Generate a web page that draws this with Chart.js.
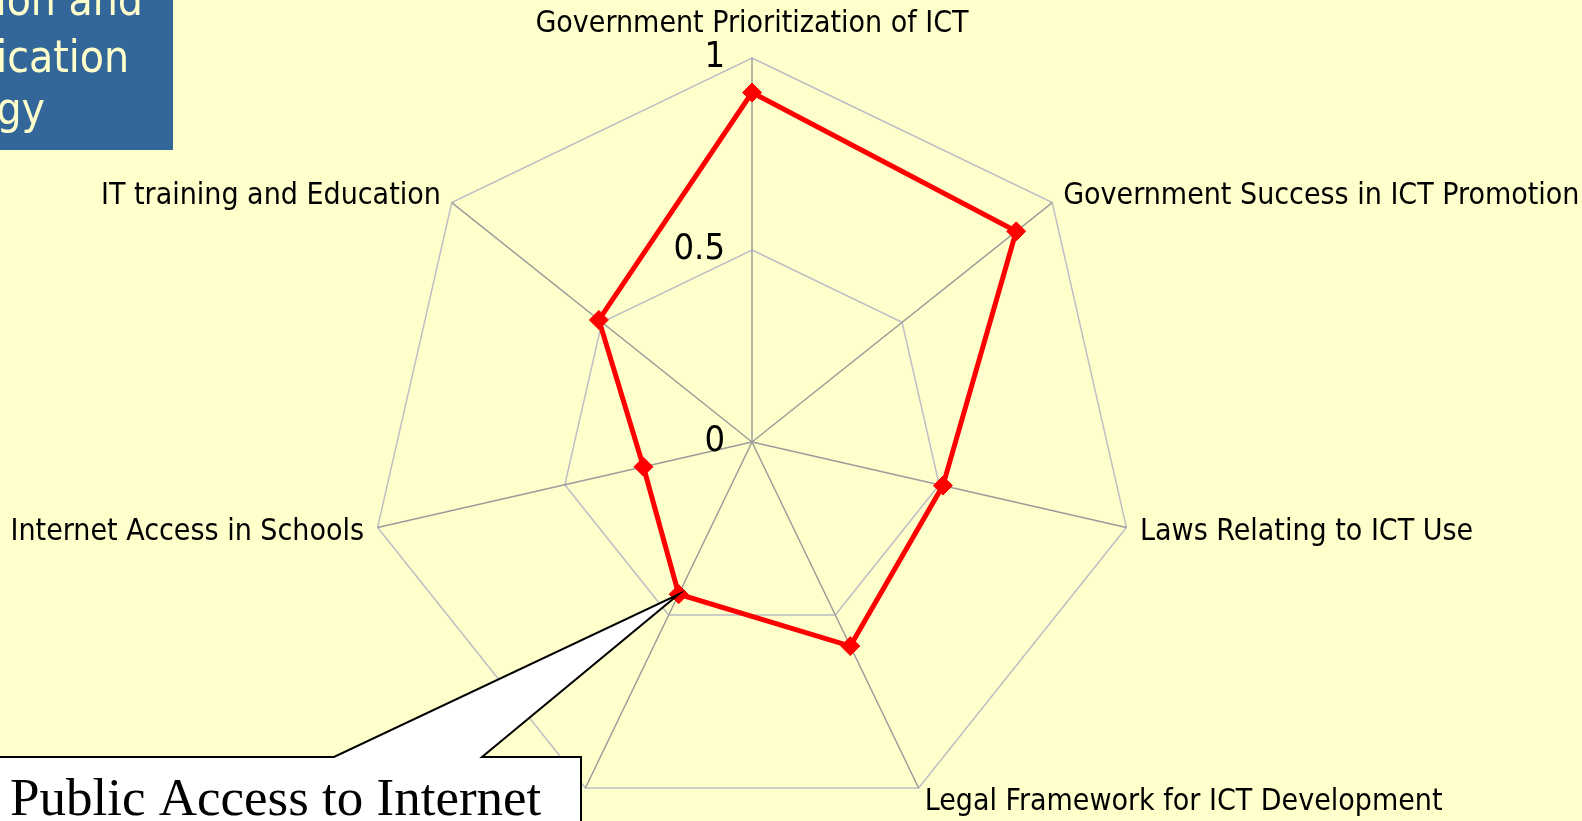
<!DOCTYPE html>
<html>
<head>
<meta charset="utf-8">
<title>ICT radar</title>
<script src="https://cdn.jsdelivr.net/npm/chart.js@4.4.1/dist/chart.umd.min.js"></script>
<style>
  html, body { margin: 0; padding: 0; background: #FFFFCC; overflow: hidden; }
  #wrap { position: absolute; left: 0; top: 0; width: 1582px; height: 826px; }
</style>
</head>
<body>
<div id="wrap"><canvas id="radar" width="1582" height="826"></canvas></div>
<script>
const categories = [
  'Government Prioritization of ICT',
  'Government Success in ICT Promotion',
  'Laws Relating to ICT Use',
  'Legal Framework for ICT Development',
  'Public Access to Internet',
  'Internet Access in Schools',
  'IT training and Education'
];
const scores     = [0.91, 0.88, 0.51, 0.59, 0.44, 0.29, 0.51];
const tickValues = [0, 0.5, 1];
const tickLabels = ['0', '0.5', '1'];
const titleLines = ['Information and', 'Communication', 'Technology'];
const calloutText  = 'Public Access to Internet';
const calloutIndex = 4;

const SANS = '"DejaVu Sans Condensed", "DejaVu Sans", sans-serif';

// labels, tick numbers, slide title corner and the callout
const overlay = {
  id: 'overlay',
  afterDraw(chart) {
    const ctx = chart.ctx;
    const r = chart.scales.r;
    ctx.save();

    // axis labels
    ctx.fillStyle = '#000';
    ctx.font = '30px ' + SANS;
    ctx.textBaseline = 'middle';
    categories.forEach((name, i) => {
      if (i === calloutIndex) return; // sits under the callout box
      const top = i === 0;
      const p = r.getPointPosition(i, r.drawingArea + (top ? 34 : 14));
      ctx.textAlign = top ? 'center' : (p.x > r.xCenter ? 'left' : 'right');
      ctx.fillText(name, p.x, p.y + (top ? 0 : 2));
    });

    // tick numbers, left of the first spoke
    ctx.font = '36px ' + SANS;
    ctx.textAlign = 'right';
    tickValues.forEach((v, k) => {
      const p = r.getPointPosition(0, r.getDistanceFromCenterForValue(v));
      ctx.fillText(tickLabels[k], p.x - 27, p.y);
    });

    // slide title corner (cut off at the left)
    ctx.save();
    ctx.beginPath();
    ctx.rect(0, 0, 173, 150);
    ctx.fillStyle = '#336699';
    ctx.fill();
    ctx.clip();
    ctx.fillStyle = '#FFFFCC';
    ctx.font = '44px ' + SANS;
    ctx.textAlign = 'right';
    ctx.textBaseline = 'alphabetic';
    ctx.fillText(titleLines[0], 143, 15);
    ctx.fillText(titleLines[1], 129, 72);
    ctx.fillText(titleLines[2], 45, 124);
    ctx.restore();

    // callout pointing at the Public Access point
    const tip = chart.getDatasetMeta(0).data[calloutIndex];
    const bT = 757, bR = 581, bB = 840;
    ctx.beginPath();
    ctx.moveTo(-4, bT);
    ctx.lineTo(334, bT);
    ctx.lineTo(tip.x, tip.y);
    ctx.lineTo(482, bT);
    ctx.lineTo(bR, bT);
    ctx.lineTo(bR, bB);
    ctx.lineTo(-4, bB);
    ctx.closePath();
    ctx.fillStyle = '#fff';
    ctx.fill();
    ctx.lineWidth = 2;
    ctx.strokeStyle = '#000';
    ctx.stroke();
    ctx.fillStyle = '#000';
    ctx.font = '53px "Liberation Serif", "Times New Roman", serif';
    ctx.textAlign = 'left';
    ctx.textBaseline = 'alphabetic';
    ctx.fillText(calloutText, 10, 815);

    ctx.restore();
  }
};

new Chart(document.getElementById('radar').getContext('2d'), {
  type: 'radar',
  data: {
    labels: categories,
    datasets: [{
      label: 'Score',
      data: scores,
      fill: false,
      borderColor: '#FF0000',
      borderWidth: 5,
      pointStyle: 'rectRot',
      pointRadius: 9.5,
      pointBorderWidth: 1,
      pointBackgroundColor: '#FF0000',
      pointBorderColor: '#FF0000'
    }]
  },
  options: {
    responsive: false,
    animation: false,
    events: [],
    layout: { padding: { left: 368, top: 58, right: 446, bottom: 0 } },
    plugins: { legend: { display: false }, tooltip: { enabled: false } },
    scales: {
      r: {
        min: 0, max: 1,
        ticks: { display: false, stepSize: 0.5 },
        pointLabels: { display: false },
        grid: { color: '#BDBDC6', lineWidth: 1.5 },
        angleLines: { color: '#9C9C9C', lineWidth: 1.5 }
      }
    }
  },
  plugins: [overlay]
});
</script>
</body>
</html>
